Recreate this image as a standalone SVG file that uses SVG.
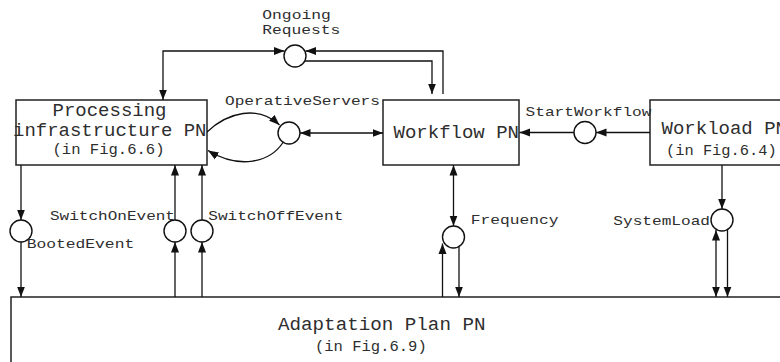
<svg xmlns="http://www.w3.org/2000/svg" width="780" height="362" viewBox="0 0 780 362">
  <style>
    .box { fill: #ffffff; stroke: #222222; stroke-width: 1.5; }
    .place { fill: #ffffff; stroke: #111111; stroke-width: 1.4; }
    .arc { fill: none; stroke: #111111; stroke-width: 1.3; }
    .tt { font-family: "Liberation Mono", "Courier New", monospace; fill: #2e2e2e; }
    .big { font-size: 17.5px; }
    .ref { font-size: 14px; }
    .lbl { font-size: 13.5px; }
    .both { marker-start: url(#ah); marker-end: url(#ah); }
    .fwd { marker-end: url(#ah); }
  </style>
  <defs>
    <marker id="ah" markerUnits="userSpaceOnUse" markerWidth="11" markerHeight="9" refX="10.5" refY="4" orient="auto-start-reverse" viewBox="0 0 11 8">
      <path d="M0,0 L10.5,4 L0,8 z" fill="#111111"/>
    </marker>
  </defs>

  <rect width="780" height="362" fill="#ffffff"/>

  <!-- transitions (sub-nets) -->
  <g id="processing">
    <rect class="box" x="16" y="100" width="191" height="65"/>
    <text class="tt big" x="52.5" y="116" textLength="114" lengthAdjust="spacingAndGlyphs">Processing</text>
    <text class="tt big" x="13" y="135.5" textLength="193.5" lengthAdjust="spacingAndGlyphs">infrastructure PN</text>
    <text class="tt ref" x="52.5" y="154" textLength="112" lengthAdjust="spacingAndGlyphs">(in Fig.6.6)</text>
  </g>
  <g id="workflow">
    <rect class="box" x="383" y="100" width="136" height="65"/>
    <text class="tt big" x="393.5" y="138" textLength="125.5" lengthAdjust="spacingAndGlyphs">Workflow PN</text>
  </g>
  <g id="workload">
    <rect class="box" x="650" y="100" width="145" height="65"/>
    <text class="tt big" x="661.5" y="133.5" textLength="125.5" lengthAdjust="spacingAndGlyphs">Workload PN</text>
    <text class="tt ref" x="666" y="154.5" textLength="110.7" lengthAdjust="spacingAndGlyphs">(in Fig.6.4)</text>
  </g>
  <g id="adaptation">
    <rect class="box" x="11" y="297" width="790" height="80"/>
    <text class="tt big" x="278" y="330" textLength="207.5" lengthAdjust="spacingAndGlyphs">Adaptation Plan PN</text>
    <text class="tt ref" x="315" y="350.5" textLength="111.7" lengthAdjust="spacingAndGlyphs">(in Fig.6.9)</text>
  </g>

  <!-- places -->
  <g id="ongoing-requests">
    <circle class="place" cx="295" cy="56" r="11"/>
    <text class="tt lbl" x="262.3" y="18.5" textLength="68.5" lengthAdjust="spacingAndGlyphs">Ongoing</text>
    <text class="tt lbl" x="262.3" y="33.5" textLength="78" lengthAdjust="spacingAndGlyphs">Requests</text>
  </g>
  <g id="operative-servers">
    <circle class="place" cx="289" cy="133" r="11"/>
    <text class="tt lbl" x="225" y="105" textLength="155" lengthAdjust="spacingAndGlyphs">OperativeServers</text>
  </g>
  <g id="start-workflow">
    <circle class="place" cx="585" cy="132.5" r="11"/>
    <text class="tt lbl" x="525.5" y="116" textLength="126" lengthAdjust="spacingAndGlyphs">StartWorkflow</text>
  </g>
  <g id="booted-event">
    <circle class="place" cx="21" cy="231" r="11"/>
    <text class="tt lbl" x="26.7" y="247.5" textLength="107.5" lengthAdjust="spacingAndGlyphs">BootedEvent</text>
  </g>
  <g id="switch-on-event">
    <circle class="place" cx="175" cy="231" r="11"/>
    <text class="tt lbl" x="50" y="220" textLength="125" lengthAdjust="spacingAndGlyphs">SwitchOnEvent</text>
  </g>
  <g id="switch-off-event">
    <circle class="place" cx="202" cy="231" r="11"/>
    <text class="tt lbl" x="208.3" y="220" textLength="135" lengthAdjust="spacingAndGlyphs">SwitchOffEvent</text>
  </g>
  <g id="frequency">
    <circle class="place" cx="453.5" cy="237" r="11"/>
    <text class="tt lbl" x="470.8" y="224" textLength="87.6" lengthAdjust="spacingAndGlyphs">Frequency</text>
  </g>
  <g id="system-load">
    <circle class="place" cx="722" cy="220" r="11"/>
    <text class="tt lbl" x="613.3" y="225" textLength="96.7" lengthAdjust="spacingAndGlyphs">SystemLoad</text>
  </g>

  <!-- arcs -->
  <g id="connectors">
    <path class="arc both" d="M163,100 V51 H284.5"/>
    <path class="arc fwd" d="M443,94 V51 H305.5"/>
    <path class="arc fwd" d="M305,61 H432 V94"/>
    <path class="arc fwd" d="M207,132 C228,112 258,105 279.5,125"/>
    <path class="arc fwd" d="M283,142.5 C270,162 240,170 208,150.5"/>
    <path class="arc both" d="M300,133 H383"/>
    <path class="arc fwd" d="M650,132.5 H596"/>
    <path class="arc fwd" d="M574,132.5 H519.5"/>
    <path class="arc fwd" d="M21,165 V220"/>
    <path class="arc fwd" d="M21,242 V297"/>
    <path class="arc fwd" d="M175,297 V242"/>
    <path class="arc fwd" d="M175,220 V165"/>
    <path class="arc fwd" d="M202,297 V242"/>
    <path class="arc fwd" d="M202,220 V165"/>
    <path class="arc both" d="M453.5,165 V226"/>
    <path class="arc fwd" d="M442.5,297 V243.5"/>
    <path class="arc fwd" d="M459,247 V297"/>
    <path class="arc fwd" d="M722,165 V209"/>
    <path class="arc both" d="M716,230 V297"/>
    <path class="arc fwd" d="M727.5,229.5 V297"/>
  </g>
</svg>
